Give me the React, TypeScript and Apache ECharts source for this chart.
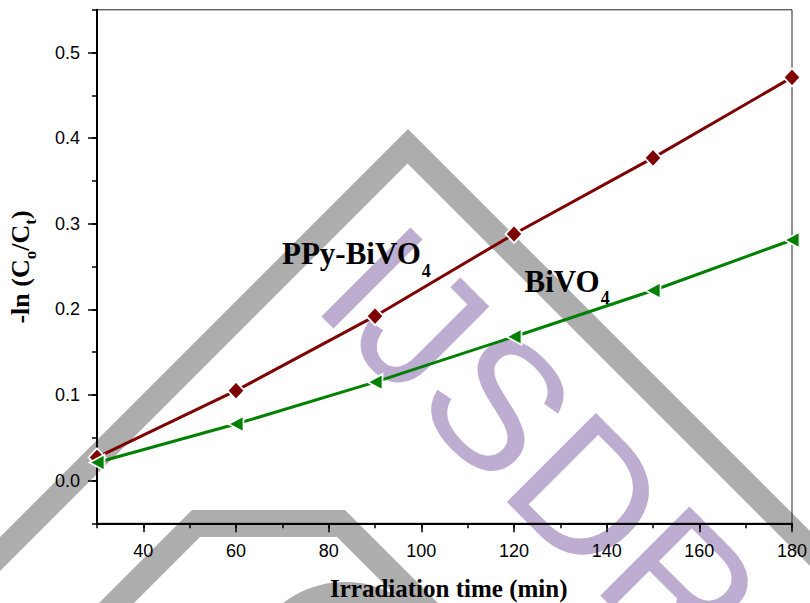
import React, { useEffect, useRef } from "react";
import * as echarts from "echarts";

// ---- data ----
const times = [30, 60, 90, 120, 150, 180];
const ppyBiVO4 = [0.027, 0.105, 0.192, 0.288, 0.377, 0.471];
const biVO4 = [0.021, 0.066, 0.115, 0.168, 0.222, 0.281];
const xTickValues = [40, 60, 80, 100, 120, 140, 160, 180];
const yTickValues = [0.0, 0.1, 0.2, 0.3, 0.4, 0.5];

const xTitle = "Irradiation time (min)";
const ppyLabel = "PPy-BiVO";
const bivoLabel = "BiVO";

// ---- layout ----
const W = 810;
const H = 603;
const L = 97;
const R = 792;
const T = 9.8;
const B = 523.3;
const X_MIN = 30;
const X_MAX = 180;
const Y_MIN = -0.05;
const Y_MAX = 0.55;

const pxPerX = (R - L) / (X_MAX - X_MIN);
const pxPerY = (B - T) / (Y_MAX - Y_MIN);
const g1Left = L + (xTickValues[0] - X_MIN) * pxPerX;
const g1Top = T + (Y_MAX - yTickValues[yTickValues.length - 1]) * pxPerY;
const g1Bottom = B - (yTickValues[0] - Y_MIN) * pxPerY;

const SERIF = '"Liberation Serif", "Times New Roman", serif';
const SANS = '"Liberation Sans", Arial, sans-serif';
const WM_GRAY = "#adadad";
const WM_PURPLE = "#bcadd1";

function measure(text: string, size: number, weight = "bold", family = SERIF) {
  const c = document.createElement("canvas").getContext("2d");
  if (!c) return text.length * size * 0.5;
  c.font = `${weight} ${size}px ${family}`;
  return c.measureText(text).width;
}

function serifText(text: string, x: number, baseline: number, size: number, z = 100) {
  return {
    type: "text",
    x,
    y: baseline - 0.3375 * size,
    z,
    silent: true,
    style: {
      text,
      fontFamily: SERIF,
      fontWeight: "bold",
      fontSize: size,
      fill: "#000",
      align: "left",
      verticalAlign: "middle",
      textAlign: "left",
      textVerticalAlign: "middle",
    },
  };
}

export default function App() {
  const ref = useRef<HTMLDivElement>(null);

  useEffect(() => {
    if (!ref.current) return;
    const chart = echarts.init(ref.current, undefined, { renderer: "svg" });

    // labels with subscripts
    const labSize = 31;
    const subSize = 18;
    const ppyX = 282;
    const ppyBase = 264;
    const bivoX = 524.5;
    const bivoBase = 291.5;
    const ppyW = measure(ppyLabel, labSize);
    const bivoW = measure(bivoLabel, labSize);

    // y axis title, built in local (unrotated) coordinates
    const ySize = 26;
    const ySub = 17;
    const segs = [
      { t: "-ln (C", sub: false },
      { t: "o", sub: true },
      { t: "/C", sub: false },
      { t: "t", sub: true },
      { t: ")", sub: false },
    ];
    const widths = segs.map((s) => measure(s.t, s.sub ? ySub : ySize));
    const total = widths.reduce((a, b) => a + b, 0);
    let cx = -total / 2;
    const yTitleChildren = segs.map((s, i) => {
      const size = s.sub ? ySub : ySize;
      const base = s.sub ? 7 : 0;
      const el = serifText(s.t, cx, base, size);
      cx += widths[i];
      return el;
    });

    const option: any = {
      animation: false,
      backgroundColor: "#fff",
      grid: [
        {
          left: L,
          right: W - R,
          top: T,
          bottom: H - B,
          show: true,
          borderColor: "#222",
          borderWidth: 1,
          backgroundColor: "transparent",
        },
        {
          left: g1Left,
          right: W - R,
          top: g1Top,
          bottom: H - g1Bottom,
          show: false,
        },
      ],
      xAxis: [
        {
          type: "value",
          gridIndex: 0,
          min: X_MIN,
          max: X_MAX,
          interval: 10,
          axisLine: { show: true, onZero: false, lineStyle: { color: "#000", width: 2 } },
          axisTick: { show: true, inside: false, length: 5, lineStyle: { color: "#000", width: 1.5 } },
          axisLabel: { show: false },
          splitLine: { show: false },
        },
        {
          type: "value",
          gridIndex: 1,
          min: xTickValues[0],
          max: xTickValues[xTickValues.length - 1],
          interval: xTickValues[1] - xTickValues[0],
          offset: B - g1Bottom,
          axisLine: { show: false, onZero: false },
          axisTick: { show: true, inside: false, length: 9, lineStyle: { color: "#000", width: 1.5 } },
          axisLabel: {
            show: true,
            margin: 19,
            color: "#000",
            fontSize: 18,
            fontFamily: SANS,
            formatter: (v: number) => String(Math.round(v)),
          },
          splitLine: { show: false },
        },
      ],
      yAxis: [
        {
          type: "value",
          gridIndex: 0,
          min: Y_MIN,
          max: Y_MAX,
          interval: 0.05,
          axisLine: { show: true, onZero: false, lineStyle: { color: "#000", width: 2 } },
          axisTick: { show: true, inside: false, length: 5, lineStyle: { color: "#000", width: 1.5 } },
          axisLabel: { show: false },
          splitLine: { show: false },
        },
        {
          type: "value",
          gridIndex: 1,
          min: yTickValues[0],
          max: yTickValues[yTickValues.length - 1],
          interval: 0.1,
          offset: g1Left - L,
          axisLine: { show: false, onZero: false },
          axisTick: { show: true, inside: false, length: 9, lineStyle: { color: "#000", width: 1.5 } },
          axisLabel: {
            show: true,
            margin: 17,
            color: "#000",
            fontSize: 18,
            fontFamily: SANS,
            formatter: (v: number) => v.toFixed(1),
          },
          splitLine: { show: false },
        },
      ],
      series: [
        {
          type: "line",
          name: "PPy-BiVO4",
          xAxisIndex: 0,
          yAxisIndex: 0,
          data: times.map((t, i) => [t, ppyBiVO4[i]]),
          symbol: "diamond",
          symbolSize: [17, 18],
          showAllSymbol: true,
          clip: true,
          silent: true,
          z: 3,
          lineStyle: { color: "#7f0000", width: 3 },
          itemStyle: { color: "#7f0000", borderColor: "#fff", borderWidth: 1.8 },
        },
        {
          type: "line",
          name: "BiVO4",
          xAxisIndex: 0,
          yAxisIndex: 0,
          data: times.map((t, i) => [t, biVO4[i]]),
          symbol: "triangle",
          symbolSize: [16, 15],
          symbolRotate: 90,
          showAllSymbol: true,
          clip: true,
          silent: true,
          z: 3,
          lineStyle: { color: "#008000", width: 3 },
          itemStyle: { color: "#008000", borderColor: "#fff", borderWidth: 1.8 },
        },
      ],
      graphic: [
        // watermark: grey chevrons
        {
          type: "polygon",
          z: -10,
          silent: true,
          shape: {
            points: [
              [-100, 637],
              [408, 129],
              [900, 621],
              [900, 656],
              [407.5, 163.5],
              [-100, 671],
            ],
          },
          style: { fill: WM_GRAY },
        },
        {
          type: "polygon",
          z: -10,
          silent: true,
          shape: {
            points: [
              [-100, 802],
              [192, 510],
              [345, 510],
              [535, 700],
              [500, 700],
              [337, 537],
              [200, 537],
              [-100, 837],
            ],
          },
          style: { fill: WM_GRAY },
        },
        {
          type: "ring",
          z: -10,
          silent: true,
          shape: { cx: 345, cy: 684, r: 102, r0: 77 },
          style: { fill: WM_GRAY },
        },
        // watermark: purple letters
        {
          type: "text",
          x: 354.3,
          y: 259.7,
          rotation: -Math.PI / 4,
          z: -9,
          silent: true,
          style: {
            text: "IJSDR",
            fontFamily: SANS,
            fontSize: 183,
            fontWeight: "normal",
            fill: WM_PURPLE,
            align: "left",
            verticalAlign: "middle",
            textAlign: "left",
            textVerticalAlign: "middle",
          },
        },
        // in-plot labels
        serifText(ppyLabel, ppyX, ppyBase, labSize),
        serifText("4", ppyX + ppyW + 1, ppyBase + 13, subSize),
        serifText(bivoLabel, bivoX, bivoBase, labSize),
        serifText("4", bivoX + bivoW + 1, bivoBase + 13, subSize),
        // x axis title
        serifText(xTitle, 330, 596.7, 25),
        // y axis title
        {
          type: "group",
          x: 29,
          y: 267,
          rotation: Math.PI / 2,
          z: 100,
          children: yTitleChildren,
        },
      ],
    };

    chart.setOption(option);
    return () => {
      chart.dispose();
    };
  }, []);

  return <div ref={ref} style={{ width: W, height: H, position: "absolute", left: 0, top: 0 }} />;
}
